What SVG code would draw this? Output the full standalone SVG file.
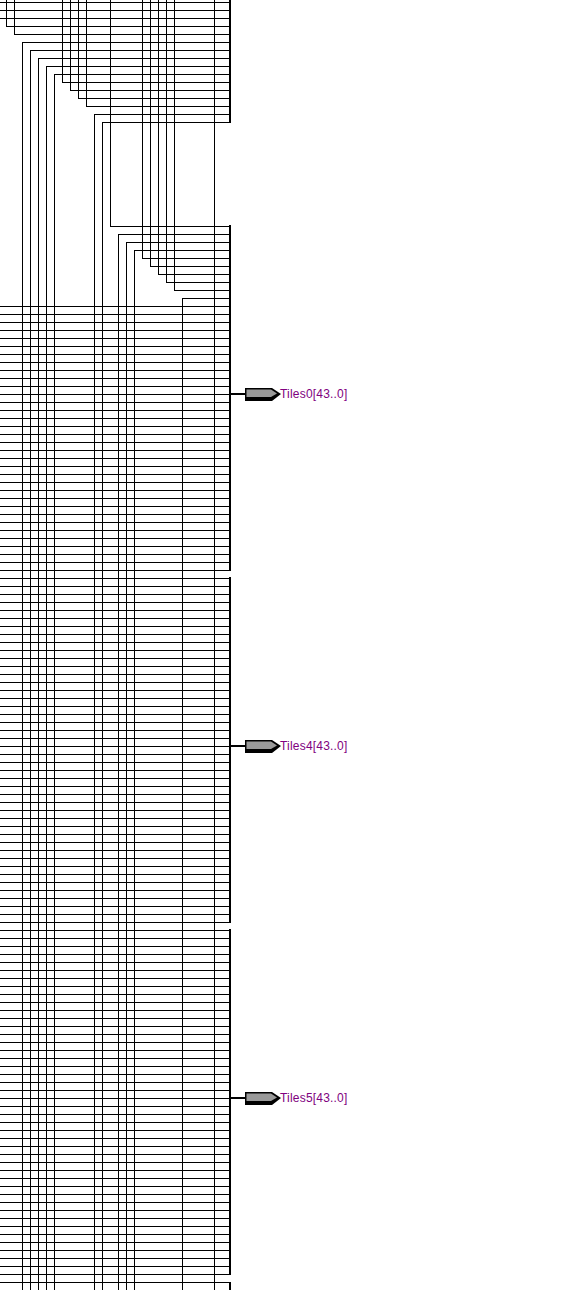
<svg xmlns="http://www.w3.org/2000/svg" width="581" height="1290" viewBox="0 0 581 1290">
<defs>
<style>
.w{fill:none;stroke:#000;stroke-width:1;shape-rendering:crispEdges}
.b{fill:none;stroke:#000;stroke-width:2;shape-rendering:crispEdges}
.t{font-family:"Liberation Sans",Arial,sans-serif;font-size:12px;fill:#800080;letter-spacing:.2px}
</style>
<g id="pin">
<path class="b" d="M231 0H245"/>
<path d="M245 -6H272L281 0L272 7H245Z" fill="#000"/>
<path d="M246.500 -4.500H271L277 -0.500L271 3H246.500Z" fill="#999"/>
</g>
</defs>
<rect width="581" height="1290" fill="#fff"/>
<g id="connectors">
<path class="w" d="M0 2.500H230M0 10.500H230M0 18.500H230M6.500 0V26.500H230M14.500 0V34.500H230M22.500 1290V42.500H230M30.500 1290V50.500H230M38.500 1290V58.500H230M46.500 1290V66.500H230M54.500 1290V74.500H230M62.500 0V82.500H230M70.500 0V90.500H230M78.500 0V98.500H230M86.500 0V106.500H230M94.500 1290V114.500H230M102.500 1290V122.500H230M110.500 0V226.500H230M118.500 1290V234.500H230M126.500 1290V242.500H230M134.500 1290V250.500H230M142.500 0V258.500H230M150.500 0V266.500H230M158.500 0V274.500H230M166.500 0V282.500H230M174.500 0V290.500H230M182.500 1290V298.500H230M214.500 0V1290"/>
<path class="w" d="M0 306.500H230M0 314.500H230M0 322.500H230M0 330.500H230M0 338.500H230M0 346.500H230M0 354.500H230M0 362.500H230M0 370.500H230M0 378.500H230M0 386.500H230M0 394.500H230M0 402.500H230M0 410.500H230M0 418.500H230M0 426.500H230M0 434.500H230M0 442.500H230M0 450.500H230M0 458.500H230M0 466.500H230M0 474.500H230M0 482.500H230M0 490.500H230M0 498.500H230M0 506.500H230M0 514.500H230M0 522.500H230M0 530.500H230M0 538.500H230M0 546.500H230M0 554.500H230M0 562.500H230M0 570.500H230"/>
<path class="w" d="M0 578.500H230M0 586.500H230M0 594.500H230M0 602.500H230M0 610.500H230M0 618.500H230M0 626.500H230M0 634.500H230M0 642.500H230M0 650.500H230M0 658.500H230M0 666.500H230M0 674.500H230M0 682.500H230M0 690.500H230M0 698.500H230M0 706.500H230M0 714.500H230M0 722.500H230M0 730.500H230M0 738.500H230M0 746.500H230M0 754.500H230M0 762.500H230M0 770.500H230M0 778.500H230M0 786.500H230M0 794.500H230M0 802.500H230M0 810.500H230M0 818.500H230M0 826.500H230M0 834.500H230M0 842.500H230M0 850.500H230M0 858.500H230M0 866.500H230M0 874.500H230M0 882.500H230M0 890.500H230M0 898.500H230M0 906.500H230M0 914.500H230M0 922.500H230"/>
<path class="w" d="M0 930.500H230M0 938.500H230M0 946.500H230M0 954.500H230M0 962.500H230M0 970.500H230M0 978.500H230M0 986.500H230M0 994.500H230M0 1002.500H230M0 1010.500H230M0 1018.500H230M0 1026.500H230M0 1034.500H230M0 1042.500H230M0 1050.500H230M0 1058.500H230M0 1066.500H230M0 1074.500H230M0 1082.500H230M0 1090.500H230M0 1098.500H230M0 1106.500H230M0 1114.500H230M0 1122.500H230M0 1130.500H230M0 1138.500H230M0 1146.500H230M0 1154.500H230M0 1162.500H230M0 1170.500H230M0 1178.500H230M0 1186.500H230M0 1194.500H230M0 1202.500H230M0 1210.500H230M0 1218.500H230M0 1226.500H230M0 1234.500H230M0 1242.500H230M0 1250.500H230M0 1258.500H230M0 1266.500H230M0 1274.500H230M0 1282.500H230"/>
<path class="b" d="M230 0V123M230 225V571M230 577V923M230 929V1275M230 1282V1290"/>
</g>
<g id="Tiles0"><use href="#pin" y="394"/><text class="t" x="280" y="398">Tiles0[43..0]</text></g>
<g id="Tiles4"><use href="#pin" y="746"/><text class="t" x="280" y="750">Tiles4[43..0]</text></g>
<g id="Tiles5"><use href="#pin" y="1098"/><text class="t" x="280" y="1102">Tiles5[43..0]</text></g>
</svg>
